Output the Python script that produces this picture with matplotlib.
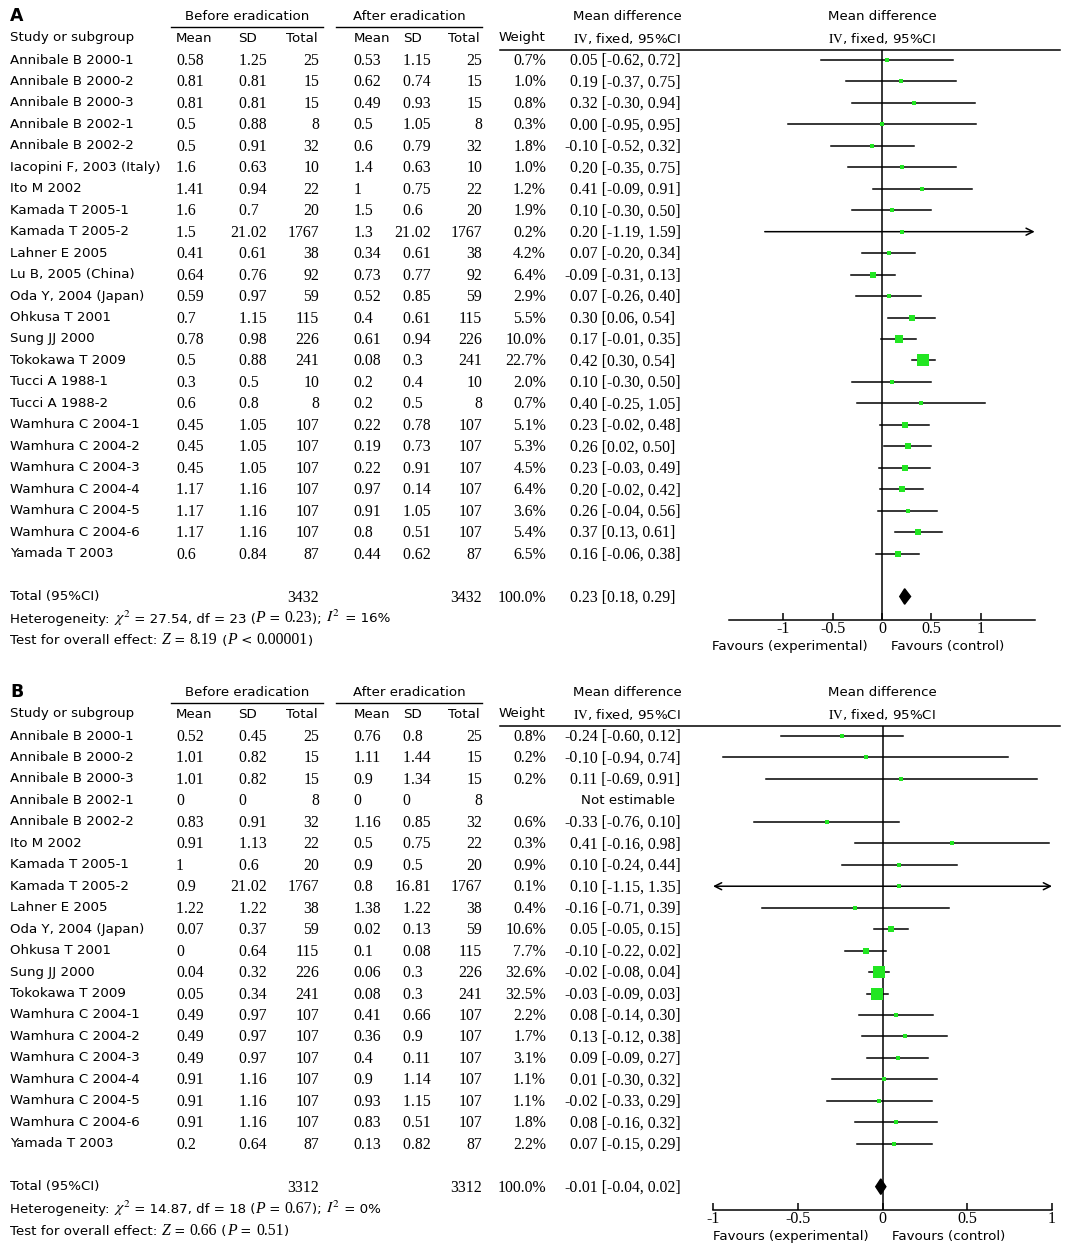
import numpy as np
import matplotlib.pyplot as plt

plt.rcParams['axes.unicode_minus'] = False

# ---------------- data: panel A ----------------
studies_a = ["Annibale B 2000-1", "Annibale B 2000-2", "Annibale B 2000-3", "Annibale B 2002-1",
             "Annibale B 2002-2", "Iacopini F, 2003 (Italy)", "Ito M 2002", "Kamada T 2005-1",
             "Kamada T 2005-2", "Lahner E 2005", "Lu B, 2005 (China)", "Oda Y, 2004 (Japan)",
             "Ohkusa T 2001", "Sung JJ 2000", "Tokokawa T 2009", "Tucci A 1988-1", "Tucci A 1988-2",
             "Wamhura C 2004-1", "Wamhura C 2004-2", "Wamhura C 2004-3", "Wamhura C 2004-4",
             "Wamhura C 2004-5", "Wamhura C 2004-6", "Yamada T 2003"]
before_mean_a = ["0.58", "0.81", "0.81", "0.5", "0.5", "1.6", "1.41", "1.6", "1.5", "0.41", "0.64", "0.59",
                 "0.7", "0.78", "0.5", "0.3", "0.6", "0.45", "0.45", "0.45", "1.17", "1.17", "1.17", "0.6"]
before_sd_a = ["1.25", "0.81", "0.81", "0.88", "0.91", "0.63", "0.94", "0.7", "21.02", "0.61", "0.76", "0.97",
               "1.15", "0.98", "0.88", "0.5", "0.8", "1.05", "1.05", "1.05", "1.16", "1.16", "1.16", "0.84"]
n_a = [25, 15, 15, 8, 32, 10, 22, 20, 1767, 38, 92, 59, 115, 226, 241, 10, 8, 107, 107, 107, 107, 107, 107, 87]
after_mean_a = ["0.53", "0.62", "0.49", "0.5", "0.6", "1.4", "1", "1.5", "1.3", "0.34", "0.73", "0.52",
                "0.4", "0.61", "0.08", "0.2", "0.2", "0.22", "0.19", "0.22", "0.97", "0.91", "0.8", "0.44"]
after_sd_a = ["1.15", "0.74", "0.93", "1.05", "0.79", "0.63", "0.75", "0.6", "21.02", "0.61", "0.77", "0.85",
              "0.61", "0.94", "0.3", "0.4", "0.5", "0.78", "0.73", "0.91", "0.14", "1.05", "0.51", "0.62"]
weight_a = [0.7, 1.0, 0.8, 0.3, 1.8, 1.0, 1.2, 1.9, 0.2, 4.2, 6.4, 2.9, 5.5, 10.0, 22.7, 2.0, 0.7,
            5.1, 5.3, 4.5, 6.4, 3.6, 5.4, 6.5]
md_a = [0.05, 0.19, 0.32, 0.00, -0.10, 0.20, 0.41, 0.10, 0.20, 0.07, -0.09, 0.07, 0.30, 0.17, 0.42,
        0.10, 0.40, 0.23, 0.26, 0.23, 0.20, 0.26, 0.37, 0.16]
lo_a = [-0.62, -0.37, -0.30, -0.95, -0.52, -0.35, -0.09, -0.30, -1.19, -0.20, -0.31, -0.26, 0.06, -0.01,
        0.30, -0.30, -0.25, -0.02, 0.02, -0.03, -0.02, -0.04, 0.13, -0.06]
hi_a = [0.72, 0.75, 0.94, 0.95, 0.32, 0.75, 0.91, 0.50, 1.59, 0.34, 0.13, 0.40, 0.54, 0.35, 0.54,
        0.50, 1.05, 0.48, 0.50, 0.49, 0.42, 0.56, 0.61, 0.38]
total_a = (3432, 0.23, 0.18, 0.29)
het_a = [("Heterogeneity: ", 's'), (r"$\chi^2$", 'm'), (" = 27.54, df = 23 (", 's'), ("P", 'i'),
         (" = ", 's'), ("0.23", 'n'), ("); ", 's'), (r"$I^2$", 'm'), (" = 16%", 's')]
test_a = [("Test for overall effect: ", 's'), ("Z", 'i'), (" = ", 's'), ("8.19", 'n'), (" (", 's'),
          ("P", 'i'), (" < ", 's'), ("0.00001", 'n'), (")", 's')]

# ---------------- data: panel B ----------------
studies_b = ["Annibale B 2000-1", "Annibale B 2000-2", "Annibale B 2000-3", "Annibale B 2002-1",
             "Annibale B 2002-2", "Ito M 2002", "Kamada T 2005-1", "Kamada T 2005-2", "Lahner E 2005",
             "Oda Y, 2004 (Japan)", "Ohkusa T 2001", "Sung JJ 2000", "Tokokawa T 2009",
             "Wamhura C 2004-1", "Wamhura C 2004-2", "Wamhura C 2004-3", "Wamhura C 2004-4",
             "Wamhura C 2004-5", "Wamhura C 2004-6", "Yamada T 2003"]
before_mean_b = ["0.52", "1.01", "1.01", "0", "0.83", "0.91", "1", "0.9", "1.22", "0.07", "0", "0.04",
                 "0.05", "0.49", "0.49", "0.49", "0.91", "0.91", "0.91", "0.2"]
before_sd_b = ["0.45", "0.82", "0.82", "0", "0.91", "1.13", "0.6", "21.02", "1.22", "0.37", "0.64", "0.32",
               "0.34", "0.97", "0.97", "0.97", "1.16", "1.16", "1.16", "0.64"]
n_b = [25, 15, 15, 8, 32, 22, 20, 1767, 38, 59, 115, 226, 241, 107, 107, 107, 107, 107, 107, 87]
after_mean_b = ["0.76", "1.11", "0.9", "0", "1.16", "0.5", "0.9", "0.8", "1.38", "0.02", "0.1", "0.06",
                "0.08", "0.41", "0.36", "0.4", "0.9", "0.93", "0.83", "0.13"]
after_sd_b = ["0.8", "1.44", "1.34", "0", "0.85", "0.75", "0.5", "16.81", "1.22", "0.13", "0.08", "0.3",
              "0.3", "0.66", "0.9", "0.11", "1.14", "1.15", "0.51", "0.82"]
weight_b = [0.8, 0.2, 0.2, np.nan, 0.6, 0.3, 0.9, 0.1, 0.4, 10.6, 7.7, 32.6, 32.5, 2.2, 1.7, 3.1,
            1.1, 1.1, 1.8, 2.2]
md_b = [-0.24, -0.10, 0.11, np.nan, -0.33, 0.41, 0.10, 0.10, -0.16, 0.05, -0.10, -0.02, -0.03,
        0.08, 0.13, 0.09, 0.01, -0.02, 0.08, 0.07]
lo_b = [-0.60, -0.94, -0.69, np.nan, -0.76, -0.16, -0.24, -1.15, -0.71, -0.05, -0.22, -0.08, -0.09,
        -0.14, -0.12, -0.09, -0.30, -0.33, -0.16, -0.15]
hi_b = [0.12, 0.74, 0.91, np.nan, 0.10, 0.98, 0.44, 1.35, 0.39, 0.15, 0.02, 0.04, 0.03,
        0.30, 0.38, 0.27, 0.32, 0.29, 0.32, 0.29]
total_b = (3312, -0.01, -0.04, 0.02)
het_b = [("Heterogeneity: ", 's'), (r"$\chi^2$", 'm'), (" = 14.87, df = 18 (", 's'), ("P", 'i'),
         (" = ", 's'), ("0.67", 'n'), ("); ", 's'), (r"$I^2$", 'm'), (" = 0%", 's')]
test_b = [("Test for overall effect: ", 's'), ("Z", 'i'), (" = ", 's'), ("0.66", 'n'), (" (", 's'),
          ("P", 'i'), (" = ", 's'), ("0.51", 'n'), (")", 's')]

ticks = [-1, -0.5, 0, 0.5, 1]
tick_labels = ["-1", "-0.5", "0", "0.5", "1"]

# ---------------- styling ----------------
W, H = 1069, 1251
SANS = 'DejaVu Sans'
SERIF = 'Liberation Serif'
FS = 9.6      # words
FN = 11.3     # numbers
GREEN = '#22e622'
STEP = 21.46

fig = plt.figure(figsize=(W / 100, H / 100), dpi=100)
canvas = fig.add_axes([0, 0, 1, 1])
canvas.set_xlim(0, W)
canvas.set_ylim(H, 0)
canvas.axis('off')
renderer = fig.canvas.get_renderer()

PROPS = {
    's': dict(family=SANS, fontsize=FS),
    'n': dict(family=SERIF, fontsize=FN),
    'i': dict(family=SERIF, fontsize=FN, style='italic'),
    'm': dict(family=SANS, fontsize=FN, math_fontfamily='stix'),
}


def word(x, y, s, ha='left', **kw):
    canvas.text(x, y, s, ha=ha, va='center', family=SANS, fontsize=FS, **kw)


def num(x, y, s, ha='left'):
    canvas.text(x, y + 5, s, ha=ha, va='baseline', family=SERIF, fontsize=FN)


def dec(x_dec, y, s):
    # decimal-point alignment like RevMan
    if '.' in s:
        ip, fp = s.split('.', 1)
        num(x_dec, y, ip, ha='right')
        num(x_dec, y, '.' + fp)
    else:
        num(x_dec, y, s, ha='right')


def width(s, props):
    t = canvas.text(0, 0, s, **props)
    w = t.get_window_extent(renderer).width
    t.remove()
    return w


def run(x, y, pieces):
    # mixed-font line, piece after piece
    for s, k in pieces:
        canvas.text(x, y + 5, s, ha='left', va='baseline', **PROPS[k])
        x += width('x' + s + 'x', PROPS[k]) - width('xx', PROPS[k])


def ci_text(m, l, h):
    return f"{m:.2f} [{l:.2f}, {h:.2f}]"


def draw_panel(letter, top, studies, bm, bsd, nn, am, asd, wt, md, lo, hi, total, het, test,
               xlim, xpx, sq_k):
    row0 = top + 44
    nrow = len(studies)
    hline = top + 34
    tot_y = row0 + (nrow + 1) * STEP
    axis_y = tot_y + 23

    # header
    canvas.text(10, top, letter, ha='left', va='center', family=SANS, fontsize=12.5, fontweight='bold')
    word(247, top, "Before eradication", ha='center')
    word(409, top, "After eradication", ha='center')
    canvas.plot([171, 323], [top + 11, top + 11], color='k', lw=1)
    canvas.plot([336, 482], [top + 11, top + 11], color='k', lw=1)
    word(627, top, "Mean difference", ha='center')
    word(882, top, "Mean difference", ha='center')
    h2 = top + 22
    word(10, h2, "Study or subgroup")
    word(176, h2, "Mean")
    word(238, h2, "SD")
    word(318, h2, "Total", ha='right')
    word(354, h2, "Mean")
    word(403, h2, "SD")
    word(480, h2, "Total", ha='right')
    word(545, h2, "Weight", ha='right')
    for cx in (627, 882):
        canvas.text(cx, h2, r"$\mathrm{IV}$, fixed, 95%CI", ha='center', va='center', family=SANS,
                    fontsize=FS, math_fontfamily='stix')
    canvas.plot([500, 1060], [hline, hline], color='k', lw=1.1)

    # table rows
    for i in range(nrow):
        y = row0 + i * STEP
        word(10, y, studies[i])
        dec(184, y, bm[i])
        dec(246.5, y, bsd[i])
        num(319, y, str(nn[i]), ha='right')
        dec(361.5, y, am[i])
        dec(410.5, y, asd[i])
        num(482, y, str(nn[i]), ha='right')
        if np.isnan(wt[i]):
            word(628, y, "Not estimable", ha='center')
        else:
            num(546, y, f"{wt[i]:.1f}%", ha='right')
            dec(577.5, y, ci_text(md[i], lo[i], hi[i]))

    word(10, tot_y, "Total (95%CI)")
    num(319, tot_y, str(total[0]), ha='right')
    num(482, tot_y, str(total[0]), ha='right')
    num(546, tot_y, "100.0%", ha='right')
    dec(577.5, tot_y, ci_text(*total[1:]))
    run(10, tot_y + 21, het)
    run(10, tot_y + 43, test)

    # forest plot axes, rows as y units
    ax = fig.add_axes([xpx[0] / W, 1 - axis_y / H, (xpx[1] - xpx[0]) / W, (axis_y - hline) / H])
    ax.set_xlim(*xlim)
    ax.set_ylim((axis_y - row0) / STEP, (hline - row0) / STEP)
    ax.patch.set_alpha(0)
    for s in ['top', 'left', 'right']:
        ax.spines[s].set_visible(False)
    ax.spines['bottom'].set_linewidth(1.1)
    ax.set_yticks([])
    ax.set_xticks(ticks)
    ax.set_xticklabels(tick_labels, family=SERIF, fontsize=11.5)
    ax.tick_params(axis='x', direction='in', length=5, width=1.1, pad=1)
    ax.axvline(0, color='k', lw=1.1)

    for i in range(nrow):
        if np.isnan(md[i]):
            continue
        l, h = lo[i], hi[i]
        cl, ch = max(l, xlim[0]), min(h, xlim[1])
        if l < xlim[0] or h > xlim[1]:
            style = '<->' if (l < xlim[0] and h > xlim[1]) else '->'
            ax.annotate('', xy=(ch, i), xytext=(cl, i),
                        arrowprops=dict(arrowstyle=style + ',head_length=0.5,head_width=0.25',
                                        lw=1.1, color='k', shrinkA=0, shrinkB=0))
        else:
            ax.plot([l, h], [i, i], color='k', lw=1.1)
        side = max(3.5, sq_k * np.sqrt(wt[i]))
        ax.plot(md[i], i, marker='s', ms=side * 0.72, color=GREEN, mew=0, zorder=3)

    ti = nrow + 1
    dh = 0.36
    ax.fill([total[2], total[1], total[3], total[1]], [ti, ti - dh, ti, ti + dh], color='k', zorder=3)

    zero_px = xpx[0] + (0 - xlim[0]) / (xlim[1] - xlim[0]) * (xpx[1] - xpx[0])
    word(zero_px - 14, axis_y + 27, "Favours (experimental)", ha='right')
    word(zero_px + 9, axis_y + 27, "Favours (control)")


draw_panel("A", 16, studies_a, before_mean_a, before_sd_a, n_a, after_mean_a, after_sd_a, weight_a,
           md_a, lo_a, hi_a, total_a, het_a, test_a, (-1.55, 1.55), (729.3, 1034.7), 2.4)
draw_panel("B", 692, studies_b, before_mean_b, before_sd_b, n_b, after_mean_b, after_sd_b, weight_b,
           md_b, lo_b, hi_b, total_b, het_b, test_b, (-1, 1), (713, 1052), 1.95)

fig.savefig('out.png', dpi=100)
